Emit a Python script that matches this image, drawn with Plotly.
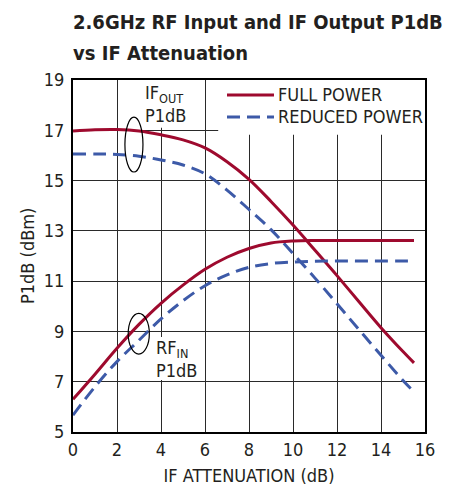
import plotly.graph_objects as go

# ---- data ----
atten = [0, 1, 2, 3, 4, 5, 6, 7, 8, 9, 10, 11, 12, 13, 14, 15, 15.5]

if_out_full = [16.97, 17.02, 17.03, 16.97, 16.82, 16.62, 16.3, 15.75, 15.05, 14.17, 13.23, 12.23, 11.22, 10.18, 9.15, 8.2, 7.75]
if_out_reduced = [16.06, 16.06, 16.04, 15.97, 15.82, 15.62, 15.27, 14.62, 13.85, 13.05, 12.1, 11.12, 10.1, 9.07, 8.05, 7.05, 6.6]
rf_in_full = [6.3, 7.3, 8.33, 9.28, 10.12, 10.84, 11.47, 11.95, 12.3, 12.52, 12.6, 12.62, 12.62, 12.62, 12.62, 12.62, 12.62]
rf_in_reduced = [5.67, 6.8, 7.8, 8.65, 9.5, 10.22, 10.82, 11.25, 11.55, 11.7, 11.76, 11.79, 11.8, 11.8, 11.8, 11.8, 11.8]

x_ticks = [0, 2, 4, 6, 8, 10, 12, 14, 16]
y_ticks = [5, 7, 9, 11, 13, 15, 17, 19]

series_names = ["FULL POWER", "REDUCED POWER"]
title_lines = ["2.6GHz RF Input and IF Output P1dB", "vs IF Attenuation"]
x_title = "IF ATTENUATION (dB)"
y_title = "P1dB (dBm)"

RED = "#9e0a2e"
BLUE = "#3d5aa8"
FONT = "DejaVu Sans Condensed, Liberation Sans Narrow, Arial Narrow, sans-serif"
TXT = "#231f20"
DASH = "13px,7px"

fig = go.Figure()
for y, color, dash in [(if_out_full, RED, "solid"), (if_out_reduced, BLUE, DASH),
                       (rf_in_full, RED, "solid"), (rf_in_reduced, BLUE, DASH)]:
    fig.add_trace(go.Scatter(x=atten, y=y, mode="lines",
                             line=dict(color=color, width=3, dash=dash, shape="spline", smoothing=1.0),
                             showlegend=False, hoverinfo="skip"))

shapes = []
# white boxes masking gridlines behind legend and labels
shapes.append(dict(type="rect", xref="x", yref="y", x0=6.6, x1=16, y0=16.82, y1=19,
                   fillcolor="white", line_width=0, layer="between"))
shapes.append(dict(type="rect", xref="x", yref="y", x0=3.05, x1=5.4, y0=17.1, y1=19,
                   fillcolor="white", line_width=0, layer="between"))
shapes.append(dict(type="rect", xref="x", yref="y", x0=3.6, x1=5.4, y0=7.07, y1=8.78,
                   fillcolor="white", line_width=0, layer="between"))
# ellipses grouping curves
shapes.append(dict(type="circle", xref="x", yref="y", x0=2.36, x1=3.18, y0=15.34, y1=17.52,
                   line=dict(color="black", width=1.2), layer="above"))
shapes.append(dict(type="circle", xref="x", yref="y", x0=2.51, x1=3.47, y0=8.1, y1=9.72,
                   line=dict(color="black", width=1.2), layer="above"))
# legend samples
shapes.append(dict(type="line", xref="paper", yref="paper", x0=0.4375, x1=0.5710, y0=0.9574, y1=0.9574,
                   line=dict(color=RED, width=3)))
shapes.append(dict(type="line", xref="paper", yref="paper", x0=0.4375, x1=0.5710, y0=0.8949, y1=0.8949,
                   line=dict(color=BLUE, width=3, dash=DASH)))

annotations = [
    dict(text=title_lines[0], xref="paper", yref="paper", x=-0.006, y=1.1634, xanchor="left", yanchor="middle",
         align="left", showarrow=False, font=dict(family=FONT, size=20, color=TXT, weight="bold")),
    dict(text=title_lines[1], xref="paper", yref="paper", x=-0.006, y=1.0781, xanchor="left", yanchor="middle",
         align="left", showarrow=False, font=dict(family=FONT, size=20, color=TXT, weight="bold")),
    dict(text=series_names[0], xref="paper", yref="paper", x=0.578, y=0.9574, xanchor="left", yanchor="middle",
         showarrow=False, font=dict(family=FONT, size=18, color=TXT)),
    dict(text=series_names[1], xref="paper", yref="paper", x=0.578, y=0.8949, xanchor="left", yanchor="middle",
         showarrow=False, font=dict(family=FONT, size=18, color=TXT)),
    dict(text="IF<sub>OUT</sub><br>P1dB", xref="x", yref="y", x=3.2, y=19.0, xanchor="left", yanchor="top",
         align="left", showarrow=False, font=dict(family=FONT, size=18, color=TXT)),
    dict(text="RF<sub>IN</sub><br>P1dB", xref="x", yref="y", x=3.7, y=8.85, xanchor="left", yanchor="top",
         align="left", showarrow=False, font=dict(family=FONT, size=18, color=TXT)),
    dict(text=y_title, xref="paper", yref="paper", x=-0.1307, y=0.5, xanchor="center", yanchor="middle",
         textangle=-90, showarrow=False, font=dict(family=FONT, size=18, color=TXT)),
]

fig.update_layout(
    width=442, height=478,
    margin=dict(l=65, r=25, t=72, b=54),
    paper_bgcolor="white", plot_bgcolor="white",
    font=dict(family=FONT, size=18, color=TXT),
    shapes=shapes, annotations=annotations,
    showlegend=False,
)
fig.update_xaxes(range=[0, 16], tickvals=x_ticks, ticks="", showgrid=True, gridcolor="#2a2a2a", gridwidth=1,
                 showline=True, linecolor="black", linewidth=2, mirror=True, automargin=False,
                 title=dict(text=x_title, font=dict(size=18)), tickfont=dict(size=18), zeroline=False)
fig.update_yaxes(range=[5, 19], tickvals=y_ticks, ticks="", showgrid=True, gridcolor="#2a2a2a", gridwidth=1,
                 showline=True, linecolor="black", linewidth=2, mirror=True, automargin=False,
                 ticklabelstandoff=3, tickfont=dict(size=18), zeroline=False)

fig.write_html("out.html")
